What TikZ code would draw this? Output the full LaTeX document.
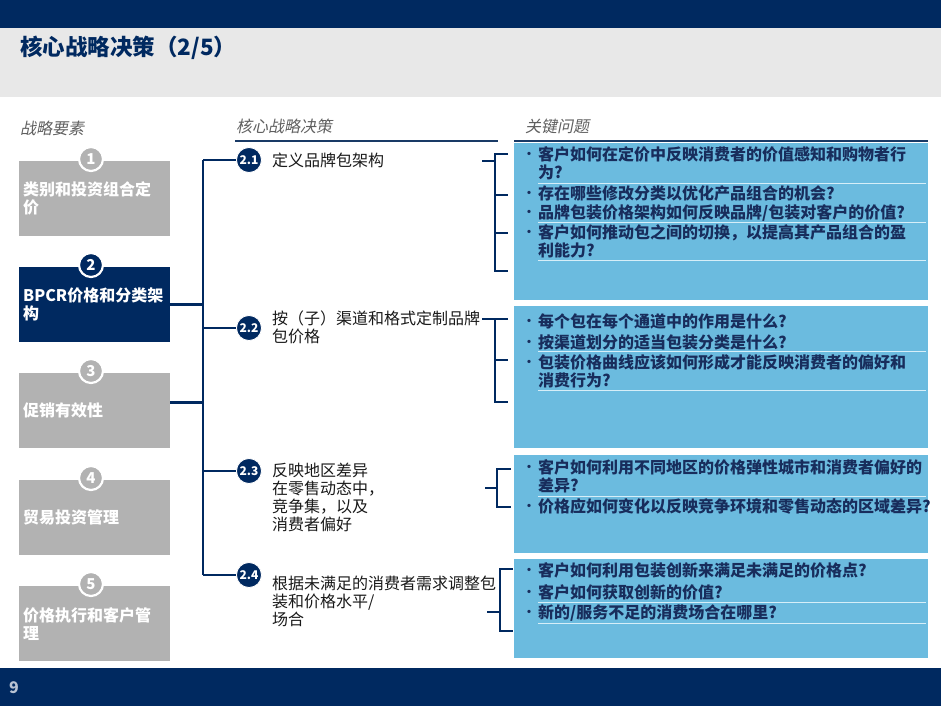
\documentclass[tikz,border=0pt]{standalone}
\usepackage{fontspec}
\setmainfont{Noto Sans CJK SC}
\newfontfamily\cjkit[FakeSlant=0.2]{Noto Sans CJK SC}
\definecolor{navy}{RGB}{0,41,96}
\definecolor{band}{RGB}{232,232,232}
\definecolor{boxgrey}{RGB}{178,178,178}
\definecolor{qblue}{RGB}{107,187,223}
\definecolor{qtext}{RGB}{24,45,92}
\definecolor{hdrgrey}{RGB}{95,95,95}
\definecolor{sepline}{RGB}{214,238,248}
\definecolor{pgnum}{RGB}{185,195,211}
\tikzset{
  lbox/.style={fill=boxgrey, minimum width=151pt, minimum height=75pt, anchor=north west,
    inner xsep=4pt, inner ysep=0pt, text width=143pt, align=left, text=white,
    font=\bfseries\fontsize{16}{18}\selectfont},
  numc/.style={circle, fill=boxgrey, draw=white, line width=2.2pt, minimum size=24pt,
    inner sep=0pt, text=white, font=\bfseries\fontsize{15}{15}\selectfont},
  dcirc/.style={circle, fill=navy, draw=white, line width=0.8pt, minimum size=25pt,
    inner sep=0pt, text=white, font=\bfseries\fontsize{12}{12}\selectfont},
  dtext/.style={anchor=west, inner sep=0pt, align=left, text=black!90,
    font=\fontsize{16}{18}\selectfont},
  hdr/.style={anchor=west, inner sep=0pt, text=hdrgrey, font=\cjkit\fontsize{16}{18}\selectfont},
  qbox/.style={fill=qblue},
  qitem/.style={anchor=west, inner sep=0pt, align=left, text=qtext,
    font=\bfseries\fontsize{16}{18}\selectfont},
  conn/.style={draw=navy, line width=2.8pt},
  sep/.style={draw=sepline, line width=0.9pt},
  hline/.style={draw=navy!80!gray, line width=1.2pt}
}
\newcommand{\bul}{\makebox[11pt][l]{\hspace*{-4pt}\raisebox{2pt}{\fontsize{12}{12}\selectfont •}}}
\newcommand{\ind}{\hspace*{11pt}}
\begin{document}
\begin{tikzpicture}[x=1pt,y=-1pt]
\useasboundingbox (0,0) rectangle (941,706);
% bands
\fill[navy] (0,0) rectangle (941,28);
\fill[band] (0,28) rectangle (941,97);
\fill[navy] (0,668) rectangle (941,706);
\node[anchor=west, inner sep=0pt, text=navy, font=\bfseries\fontsize{22.5}{26}\selectfont] (title) at (20,48) {核心战略决策（2/5）};
\node[anchor=west, inner sep=0pt, text=pgnum, font=\bfseries\fontsize{16}{16}\selectfont] (pg) at (9,688) {9};
% headers
\node[hdr] (h1) at (20,128) {战略要素};
\node[hdr] (h2) at (236,126) {核心战略决策};
\node[hdr] (h3) at (525,126) {关键问题};
\draw[hline] (235,141) -- (498,141);
\draw[hline] (514,141) -- (928,141);
% question boxes
\fill[qbox] (514,143) rectangle (928,300);
\fill[qbox] (514,306) rectangle (928,448);
\fill[qbox] (514,455) rectangle (928,553);
\fill[qbox] (514,559) rectangle (928,658);
% separators
\foreach \yy in {183,222,260,351,390,496,602,623}
  \draw[sep] (538,\yy) -- (926,\yy);
% left boxes
\node[lbox] (b1) at (19,161) {类别和投资组合定\\价};
\node[lbox, fill=navy] (b2) at (19,267) {BPCR价格和分类架\\构};
\node[lbox] (b3) at (19,373) {促销有效性};
\node[lbox] (b4) at (19,480) {贸易投资管理};
\node[lbox] (b5) at (19,586) {价格执行和客户管\\理};
\node[numc] (c1) at (91,159) {1};
\node[numc, fill=navy] (c2) at (91,265) {2};
\node[numc] (c3) at (91,371) {3};
\node[numc] (c4) at (91,478) {4};
\node[numc] (c5) at (91,584) {5};
% decision circles
\node[dcirc] (d1) at (249,160) {2.1};
\node[dcirc] (d2) at (249,328) {2.2};
\node[dcirc] (d3) at (249,471) {2.3};
\node[dcirc] (d4) at (249,575) {2.4};
% spine
\coordinate (spT) at (203,160);
\coordinate (spB) at (203,575);
\draw[conn] (spT) -- (spB);
\draw[conn] (b2.east) -- (b2.east -| spT);
\draw[conn] ([yshift=8.5pt]b3.east) -- ([yshift=8.5pt]b3.east -| spT);
\draw[conn] (d1 -| spT) -- (d1.west);
\draw[conn] (d2 -| spT) -- (d2.west);
\draw[conn] (d3 -| spT) -- (d3.west);
\draw[conn] (d4 -| spT) -- (d4.west);
% decision texts
\node[dtext] (t1) at (272,160) {定义品牌包架构};
\node[dtext] (t2) at (272,327.5) {按（子）渠道和格式定制品牌\\包价格};
\node[dtext] (t3) at (272,497.5) {反映地区差异\\在零售动态中，\\竞争集，以及\\消费者偏好};
\node[dtext] (t4) at (272,601) {根据未满足的消费者需求调整包\\装和价格水平/\\场合};
% brackets
\coordinate (k1s) at (482,161); \coordinate (k1) at (495,161);
\draw[conn] (k1s) -- (k1);
\draw[conn] (508,154) -- (495,154) -- (495,271) -- (508,271);
\draw[conn] (495,195) -- (508,195);
\draw[conn] (495,233) -- (508,233);
\coordinate (k2s) at (482,319); \coordinate (k2) at (495,319);
\draw[conn] (k2s) -- (k2);
\draw[conn] (508,319) -- (495,319) -- (495,402) -- (508,402);
\draw[conn] (495,360) -- (508,360);
\coordinate (k3s) at (485,488); \coordinate (k3) at (497,488);
\draw[conn] (k3s) -- (k3);
\draw[conn] (511,469) -- (497,469) -- (497,507) -- (511,507);
\coordinate (k4s) at (487,612); \coordinate (k4) at (500,612);
\draw[conn] (k4s) -- (k4);
\draw[conn] (513,569) -- (500,569) -- (500,631) -- (513,631);
% questions
\node[qitem] (i11) at (527,163) {\bul 客户如何在定价中反映消费者的价值感知和购物者行\\\ind 为?};
\node[qitem] (i12) at (527,193) {\bul 存在哪些修改分类以优化产品组合的机会?};
\node[qitem] (i13) at (527,213) {\bul 品牌包装价格架构如何反映品牌/包装对客户的价值?};
\node[qitem] (i14) at (527,241) {\bul 客户如何推动包之间的切换，以提高其产品组合的盈\\\ind 利能力?};
\node[qitem] (i21) at (527,321) {\bul 每个包在每个通道中的作用是什么?};
\node[qitem] (i22) at (527,342) {\bul 按渠道划分的适当包装分类是什么?};
\node[qitem] (i23) at (527,371.5) {\bul 包装价格曲线应该如何形成才能反映消费者的偏好和\\\ind 消费行为?};
\node[qitem] (i31) at (527,476) {\bul 客户如何利用不同地区的价格弹性城市和消费者偏好的\\\ind 差异?};
\node[qitem] (i32) at (527,506) {\bul 价格应如何变化以反映竞争环境和零售动态的区域差异?};
\node[qitem] (i41) at (527,570) {\bul 客户如何利用包装创新来满足未满足的价格点?};
\node[qitem] (i42) at (527,592) {\bul 客户如何获取创新的价值?};
\node[qitem] (i43) at (527,613) {\bul 新的/服务不足的消费场合在哪里?};
\end{tikzpicture}
\end{document}
